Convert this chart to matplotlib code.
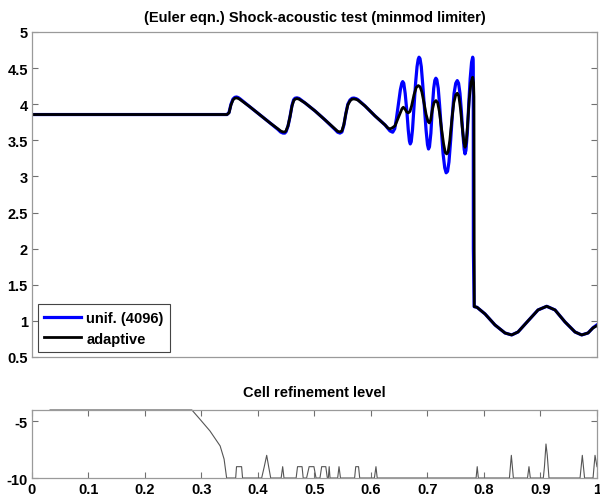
import numpy as np
import matplotlib
matplotlib.use("Agg")
import matplotlib.pyplot as plt

plt.rcParams['font.family'] = ['Liberation Sans', 'DejaVu Sans']
plt.rcParams['font.size'] = 10.5
plt.rcParams['font.weight'] = 'bold'
plt.rcParams['axes.unicode_minus'] = False

# density, adaptive run
x_adapt = [0.0, 0.3451, 0.3487, 0.3522, 0.3558, 0.3590, 0.3620, 0.3650, 0.3681, 0.3858,
           0.4035, 0.4212, 0.4354, 0.4400, 0.4442, 0.4475, 0.4496, 0.4531, 0.4566, 0.4602,
           0.4630, 0.4655, 0.4690, 0.4726, 0.4832, 0.5009, 0.5186, 0.5363, 0.5410, 0.5451,
           0.5485, 0.5520, 0.5555, 0.5590, 0.5628, 0.5665, 0.5699, 0.5740, 0.5770, 0.5894,
           0.6071, 0.6248, 0.6300, 0.6336, 0.6370, 0.6425, 0.6513, 0.6550, 0.6572, 0.6600,
           0.6630, 0.6660, 0.6690, 0.6720, 0.6761, 0.6800, 0.6837, 0.6870, 0.6900, 0.6938,
           0.6975, 0.7010, 0.7032, 0.7055, 0.7085, 0.7115, 0.7150, 0.7180, 0.7210, 0.7245,
           0.7285, 0.7315, 0.7340, 0.7365, 0.7395, 0.7430, 0.7465, 0.7500, 0.7527, 0.7555,
           0.7585, 0.7615, 0.7645, 0.7664, 0.7685, 0.7710, 0.7740, 0.7770, 0.7800, 0.7815,
           0.7822, 0.7828, 0.7876, 0.8018, 0.8195, 0.8372, 0.8490, 0.8602, 0.8779, 0.8956,
           0.9110, 0.9257, 0.9434, 0.9611, 0.9729, 0.9841, 0.9929, 1.0]
rho_adapt = [3.857, 3.857, 3.880, 3.990, 4.060, 4.083, 4.087, 4.080, 4.066, 3.963,
             3.852, 3.741, 3.658, 3.630, 3.616, 3.615, 3.630, 3.700, 3.824, 3.975,
             4.045, 4.070, 4.078, 4.070, 4.018, 3.907, 3.783, 3.658, 3.625, 3.616,
             3.630, 3.720, 3.870, 3.990, 4.045, 4.070, 4.073, 4.066, 4.055, 3.976,
             3.838, 3.713, 3.670, 3.658, 3.670, 3.700, 3.870, 3.940, 3.958, 3.935,
             3.895, 3.880, 3.900, 3.980, 4.130, 4.230, 4.258, 4.240, 4.170, 4.020,
             3.860, 3.760, 3.741, 3.780, 3.920, 4.020, 4.050, 4.020, 3.900, 3.680,
             3.450, 3.330, 3.312, 3.340, 3.500, 3.780, 4.020, 4.130, 4.152, 4.110,
             3.930, 3.680, 3.470, 3.404, 3.470, 3.720, 4.080, 4.300, 4.374, 4.300,
             4.100, 1.197, 1.188, 1.096, 0.943, 0.832, 0.805, 0.846, 0.999, 1.151,
             1.202, 1.151, 0.985, 0.846, 0.805, 0.832, 0.902, 0.934]

# density, uniform grid with 4096 cells
x_unif = [0.0, 0.3451, 0.3487, 0.3522, 0.3558, 0.3590, 0.3620, 0.3650, 0.3681, 0.3858,
          0.4035, 0.4212, 0.4354, 0.4400, 0.4442, 0.4475, 0.4496, 0.4531, 0.4566, 0.4602,
          0.4630, 0.4655, 0.4690, 0.4726, 0.4832, 0.5009, 0.5186, 0.5363, 0.5410, 0.5451,
          0.5485, 0.5520, 0.5555, 0.5590, 0.5628, 0.5665, 0.5699, 0.5740, 0.5770, 0.5894,
          0.6071, 0.6248, 0.6336, 0.6384, 0.6420, 0.6450, 0.6485, 0.6520, 0.6545, 0.6561,
          0.6580, 0.6605, 0.6635, 0.6660, 0.6680, 0.6695, 0.6712, 0.6735, 0.6760, 0.6790,
          0.6815, 0.6835, 0.6850, 0.6868, 0.6890, 0.6915, 0.6945, 0.6975, 0.7000, 0.7018,
          0.7035, 0.7060, 0.7085, 0.7110, 0.7130, 0.7148, 0.7165, 0.7190, 0.7215, 0.7245,
          0.7275, 0.7305, 0.7330, 0.7355, 0.7380, 0.7410, 0.7440, 0.7470, 0.7500, 0.7527,
          0.7550, 0.7575, 0.7600, 0.7625, 0.7650, 0.7664, 0.7680, 0.7705, 0.7730, 0.7755,
          0.7780, 0.7800, 0.7808, 0.7810, 0.7812, 0.7826, 0.7876, 0.8018, 0.8195, 0.8372,
          0.8490, 0.8602, 0.8779, 0.8956, 0.9110, 0.9257, 0.9434, 0.9611, 0.9729, 0.9841,
          0.9929, 1.0]
rho_unif = [3.857, 3.857, 3.885, 4.000, 4.072, 4.095, 4.100, 4.092, 4.075, 3.963,
            3.852, 3.741, 3.650, 3.615, 3.600, 3.600, 3.618, 3.695, 3.824, 3.985,
            4.060, 4.083, 4.088, 4.080, 4.018, 3.907, 3.783, 3.650, 3.612, 3.600,
            3.615, 3.710, 3.870, 4.000, 4.058, 4.082, 4.085, 4.076, 4.062, 3.976,
            3.838, 3.713, 3.630, 3.612, 3.660, 3.800, 4.000, 4.200, 4.290, 4.313,
            4.290, 4.150, 3.900, 3.640, 3.490, 3.450, 3.480, 3.650, 3.950, 4.300,
            4.520, 4.620, 4.651, 4.630, 4.520, 4.280, 3.960, 3.640, 3.440, 3.380,
            3.410, 3.600, 3.950, 4.220, 4.330, 4.360, 4.340, 4.220, 3.980, 3.650,
            3.320, 3.120, 3.050, 3.070, 3.200, 3.500, 3.850, 4.150, 4.290, 4.327,
            4.290, 4.150, 3.900, 3.600, 3.370, 3.312, 3.360, 3.600, 4.000, 4.350,
            4.580, 4.651, 4.620, 4.500, 2.000, 1.197, 1.188, 1.096, 0.943, 0.832,
            0.805, 0.846, 0.999, 1.151, 1.202, 1.151, 0.985, 0.846, 0.805, 0.832,
            0.905, 0.945]

# refinement level of the adaptive mesh
x_level = [0.032, 0.283, 0.297, 0.315, 0.333, 0.340, 0.3445, 0.3605, 0.362, 0.371,
           0.3727, 0.4065, 0.4111, 0.4154, 0.4189, 0.4225, 0.441, 0.4437, 0.446, 0.4675,
           0.470, 0.478, 0.480, 0.486, 0.4905, 0.499, 0.5027, 0.5097, 0.5127, 0.520,
           0.5227, 0.5245, 0.526, 0.5275, 0.541, 0.5434, 0.546, 0.571, 0.573, 0.578,
           0.580, 0.606, 0.6088, 0.611, 0.786, 0.788, 0.790, 0.845, 0.8484, 0.852,
           0.877, 0.8796, 0.882, 0.905, 0.907, 0.9097, 0.912, 0.915, 0.970, 0.974,
           0.978, 0.993, 0.9965, 1.0]
level = [-4, -4, -4.8, -5.85, -7.17, -8.33, -10, -10, -9, -9,
         -10, -10, -9, -8, -9, -10, -10, -9, -10, -10,
         -9, -9, -10, -10, -9, -9, -10, -10, -9, -9,
         -10, -10, -9, -10, -10, -9, -10, -10, -9, -9,
         -10, -10, -9, -10, -10, -9, -10, -10, -8, -10,
         -10, -9, -10, -10, -9, -7, -8, -10, -10, -8,
         -10, -10, -8, -9]

spine_col = '#9a9a9a'
tick_col = '#707070'


def style_axes(ax):
    for s in ax.spines.values():
        s.set_color(spine_col)
        s.set_linewidth(0.9)
    ax.tick_params(direction='in', length=4, width=0.8, color=tick_col,
                   top=True, right=True, labelsize=10.5, pad=3)


fig = plt.figure(figsize=(6.0, 5.02), dpi=100)
ax1 = fig.add_axes([0.0533, 0.2869, 0.9417, 0.6474])
ax2 = fig.add_axes([0.0533, 0.0458, 0.9417, 0.1355])

ax1.plot(x_unif, rho_unif, color='#0000ff', lw=2.3, label='unif. (4096)')
ax1.plot(x_adapt, rho_adapt, color='black', lw=2.0, label='adaptive')
ax1.set_xlim(0, 1)
ax1.set_ylim(0.5, 5)
ax1.set_yticks(np.arange(0.5, 5.01, 0.5))
ax1.set_yticklabels(['0.5', '1', '1.5', '2', '2.5', '3', '3.5', '4', '4.5', '5'])
ax1.set_xticks([])
style_axes(ax1)
ax1.set_title('(Euler eqn.) Shock-acoustic test (minmod limiter)', fontsize=10.5,
              fontweight='bold', pad=8)
leg = ax1.legend(loc='lower left', bbox_to_anchor=(0.01, 0.015), borderaxespad=0,
                 fancybox=False, framealpha=1, edgecolor='#444444', fontsize=10.5,
                 handlelength=2.5, handletextpad=0.4, borderpad=0.45, labelspacing=0.45)
leg.get_frame().set_linewidth(0.8)

ax2.plot(x_level, level, color='#555555', lw=0.8, clip_on=False)
ax2.set_xlim(0, 1)
ax2.set_ylim(-10, -4)
ax2.set_yticks([-10, -5])
ax2.set_xticks(np.arange(0, 1.01, 0.1))
ax2.set_xticklabels(['0', '0.1', '0.2', '0.3', '0.4', '0.5', '0.6', '0.7', '0.8', '0.9', '1'])
style_axes(ax2)
ax2.set_title('Cell refinement level', fontsize=10.5, fontweight='bold', pad=10)

fig.savefig('out.png', dpi=100)
